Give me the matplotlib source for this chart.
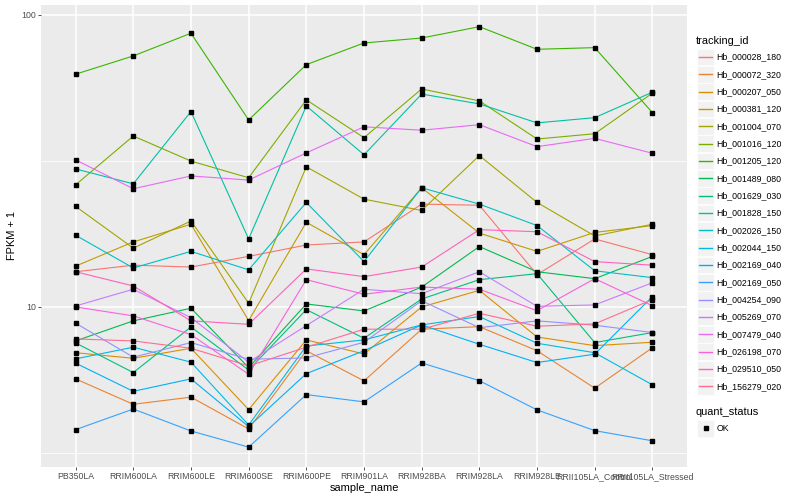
import matplotlib
matplotlib.use("Agg")
import matplotlib.pyplot as plt
from matplotlib.patches import Rectangle
from matplotlib.ticker import FixedLocator, NullFormatter
import numpy as np

plt.rcParams['font.family'] = ['Liberation Sans', 'DejaVu Sans']

samples = ["PB350LA", "RRIM600LA", "RRIM600LE", "RRIM600SE", "RRIM600PE", "RRIM901LA",
           "RRIM928BA", "RRIM928LA", "RRIM928LE", "RRII105LA_Control", "RRII105LA_Stressed"]

tracking_ids = ["Hb_000028_180", "Hb_000072_320", "Hb_000207_050", "Hb_000381_120",
                "Hb_001004_070", "Hb_001016_120", "Hb_001205_120", "Hb_001489_080",
                "Hb_001629_030", "Hb_001828_150", "Hb_002026_150", "Hb_002044_150",
                "Hb_002169_040", "Hb_002169_050", "Hb_004254_090", "Hb_005269_070",
                "Hb_007479_040", "Hb_026198_070", "Hb_029510_050", "Hb_156279_020"]

# FPKM + 1 per sample
hb_000028_180 = [13.2, 13.9, 13.7, 14.9, 16.3, 16.7, 22.5, 22.3, 12.9, 17.1, 15.1]
hb_000072_320 = [5.67, 4.64, 4.91, 3.82, 7.08, 5.58, 8.39, 8.56, 7.08, 5.27, 7.25]
hb_000207_050 = [6.97, 6.67, 7.22, 4.45, 7.71, 6.90, 10.0, 11.4, 7.89, 7.37, 7.57]
hb_000381_120 = [13.8, 16.7, 19.2, 8.98, 19.5, 15.1, 25.6, 17.9, 15.5, 18.0, 19.0]
hb_001004_070 = [22.1, 15.9, 19.7, 10.3, 30.2, 23.4, 21.4, 33.0, 22.8, 17.5, 19.2]
hb_001016_120 = [26.2, 38.5, 31.6, 27.7, 51.2, 38.0, 55.8, 50.8, 37.6, 39.2, 54.0]
hb_001205_120 = [62.7, 72.4, 86.6, 43.7, 67.6, 80.2, 83.4, 91.2, 76.3, 77.3, 46.3]
hb_001489_080 = [7.65, 8.96, 9.90, 6.20, 10.24, 9.69, 11.7, 16.1, 13.2, 12.5, 14.9]
hb_001629_030 = [7.53, 5.96, 8.54, 6.08, 9.79, 7.81, 10.65, 12.4, 13.0, 7.55, 8.17]
hb_001828_150 = [29.7, 26.4, 46.7, 17.1, 48.8, 33.2, 53.6, 49.6, 42.7, 44.5, 54.4]
hb_002026_150 = [17.6, 13.6, 15.5, 13.4, 22.8, 14.3, 25.6, 22.5, 19.0, 13.3, 12.6]
hb_002044_150 = [6.64, 7.28, 6.47, 3.94, 7.35, 7.71, 8.68, 9.27, 7.51, 6.97, 5.41]
hb_002169_040 = [6.42, 5.14, 5.67, 3.89, 5.91, 7.08, 8.68, 7.45, 6.45, 6.89, 10.85]
hb_002169_050 = [3.80, 4.47, 3.76, 3.31, 5.01, 4.73, 6.43, 5.59, 4.44, 3.77, 3.48]
hb_004254_090 = [8.80, 6.73, 7.55, 6.62, 6.69, 7.57, 10.5, 8.49, 8.96, 8.66, 8.17]
hb_005269_070 = [10.08, 11.5, 9.19, 6.47, 8.63, 11.5, 11.1, 13.2, 10.05, 10.16, 12.1]
hb_007479_040 = [31.9, 25.4, 28.1, 27.2, 33.7, 41.4, 40.3, 42.1, 35.4, 37.8, 33.6]
hb_026198_070 = [10.0, 9.32, 8.04, 5.88, 12.4, 11.05, 11.7, 11.5, 9.71, 12.5, 10.1]
hb_029510_050 = [13.2, 11.8, 8.96, 8.72, 13.5, 12.7, 13.7, 18.4, 18.1, 14.3, 13.9]
hb_156279_020 = [7.77, 7.65, 7.22, 6.28, 7.28, 8.39, 8.39, 9.51, 8.59, 8.75, 10.6]

series = [hb_000028_180, hb_000072_320, hb_000207_050, hb_000381_120, hb_001004_070,
          hb_001016_120, hb_001205_120, hb_001489_080, hb_001629_030, hb_001828_150,
          hb_002026_150, hb_002044_150, hb_002169_040, hb_002169_050, hb_004254_090,
          hb_005269_070, hb_007479_040, hb_026198_070, hb_029510_050, hb_156279_020]

# ggplot default hue palette for 20 levels
colors = ["#F8766D", "#EA8331", "#D89000", "#C09B00", "#A3A500", "#7CAE00", "#39B600",
          "#00BB4E", "#00BF7D", "#00C1A3", "#00BFC4", "#00BAE0", "#00B0F6", "#35A2FF",
          "#9590FF", "#C77CFF", "#E76BF3", "#FA62DB", "#FF62BC", "#FF6C91"]

fig = plt.figure(figsize=(8, 5), dpi=100)
ax = fig.add_axes([41 / 800, 33 / 500, 646 / 800, 462 / 500])
ax.set_facecolor('#EBEBEB')

x = np.arange(len(samples))
for vals, col in zip(series, colors):
    ax.plot(x, vals, color=col, lw=0.8, zorder=2)
for vals in series:
    ax.plot(x, vals, 's', color='black', ms=2.2, ls='none', zorder=3)

ax.set_yscale('log')
ax.set_ylim(2.83, 108.2)
ax.set_xlim(-0.6, len(samples) - 0.4)
ax.set_yticks([10, 100])
ax.set_yticklabels(['10', '100'])
ax.yaxis.set_minor_locator(FixedLocator([10 ** 0.5, 10 ** 1.5]))
ax.yaxis.set_minor_formatter(NullFormatter())
ax.set_xticks(x)
ax.set_xticklabels(samples)

ax.grid(which='major', color='white', lw=1.1)
ax.grid(which='minor', axis='y', color='white', lw=0.55)
ax.set_axisbelow(True)
for s in ax.spines.values():
    s.set_visible(False)
ax.tick_params(which='major', length=2, width=0.6, color='#333333',
               labelcolor='#4D4D4D', labelsize=6.3, pad=1.6)
ax.tick_params(which='minor', length=0)

fig.text(364 / 800, 1 - 488 / 500, 'sample_name', fontsize=7.9, ha='center', va='center')
fig.text(12 / 800, 1 - 236 / 500, 'FPKM + 1', fontsize=7.9, rotation=90,
         ha='center', va='center')

# legends, drawn in pixel coordinates
leg = fig.add_axes([0, 0, 1, 1])
leg.set_xlim(0, 800)
leg.set_ylim(500, 0)
leg.axis('off')

leg.text(696, 40.7, 'tracking_id', fontsize=7.9, va='center')
for i, (name, col) in enumerate(zip(tracking_ids, colors)):
    yc = 57 + i * 17.33
    leg.add_patch(Rectangle((697.3, yc - 8.4), 16.8, 16.8, facecolor='#F2F2F2',
                            edgecolor='white', lw=0.5))
    leg.plot([699, 712], [yc, yc], color=col, lw=1.0)
    leg.text(716.7, yc, name, fontsize=6.3, va='center')

leg.text(696, 411.7, 'quant_status', fontsize=7.9, va='center')
leg.add_patch(Rectangle((697.3, 428.3 - 8.4), 16.8, 16.8, facecolor='#F2F2F2',
                        edgecolor='white', lw=0.5))
leg.plot([705.7], [428.3], 's', color='black', ms=2.4)
leg.text(716.7, 428.3, 'OK', fontsize=6.3, va='center')

fig.savefig('out.png', dpi=100)
